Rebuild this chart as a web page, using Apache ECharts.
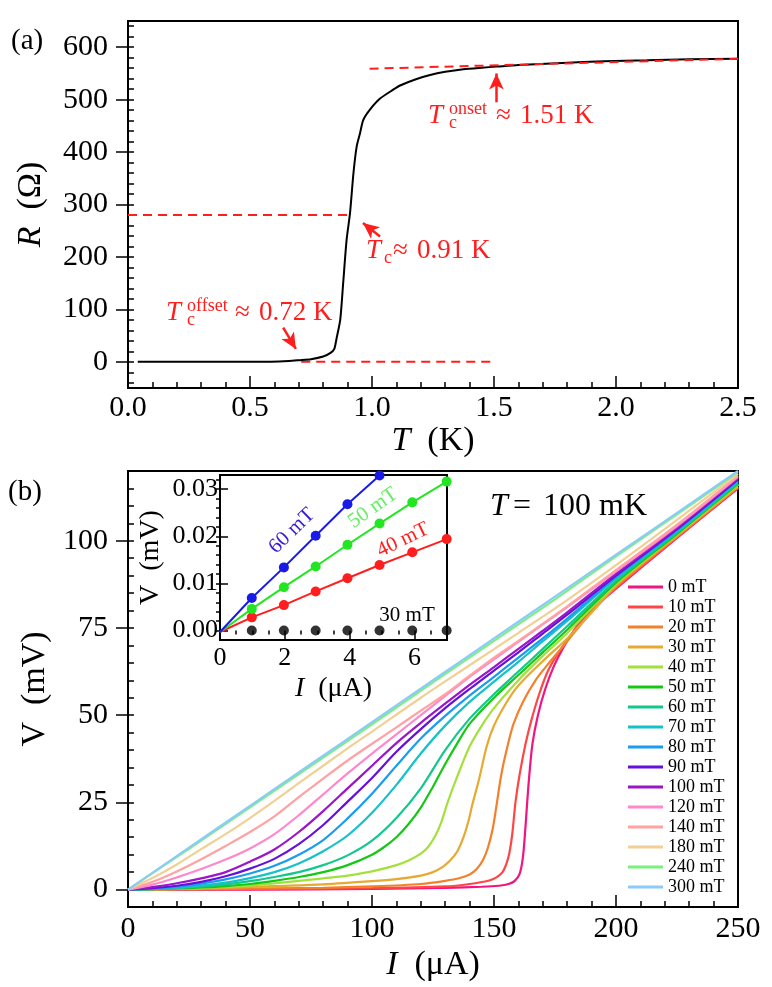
<!DOCTYPE html>
<html><head><meta charset="utf-8">
<script src="https://cdn.jsdelivr.net/npm/echarts@6/dist/echarts.min.js"></script>
<style>html,body{margin:0;padding:0;background:#fff}#c{width:772px;height:987px}</style>
</head><body><div id="c"></div>
<script>
const FONT = '"Liberation Serif", "DejaVu Serif", serif';

// ---------- Panel (a): R(T) ----------
const tempK  = [0.04,0.2,0.4,0.55,0.62,0.66,0.70,0.75,0.80,0.83,0.845,0.855,0.87,0.882,0.896,0.91,0.924,0.937,0.951,0.964,0.99,1.033,1.087,1.115,1.18,1.238,1.30,1.374,1.45,1.51,1.60,1.78,1.95,2.126,2.30,2.50];
const resOhm = [0,0,0,0,0.5,1.5,3,5,10,17,24,45,81,151,233,284,360,410,436,461,480,502,519,527,539,547,553,558,561,563,566,570,573,575,577,578];
const tcLine     = [[0,280],[0.91,280]];
const offsetLine = [[0.71,0],[1.5,0]];
const onsetLine  = [[0.99,559],[2.5,578]];
const arrowOnset  = [[1.51,495],[1.51,550]];
const arrowTc     = [[1.033,239],[0.963,264.7]];
const arrowOffset = [[0.636,65],[0.688,24.5]];
const rTicks = [0,100,200,300,400,500,600];

// ---------- Panel (b): V(I) at T = 100 mK ----------
const fields = ['0 mT','10 mT','20 mT','30 mT','40 mT','50 mT','60 mT','70 mT','80 mT','90 mT','100 mT','120 mT','140 mT','180 mT','240 mT','300 mT'];
const iv0   = [[0,0],[50,0],[100,0.2],[130,0.5],[145,0.8],[152,1.1],[156,1.6],[158.5,2.5],[160.5,4.5],[161.8,9],[162.8,17],[163.6,25],[164.5,33],[165.8,42],[168,50],[171,57.5],[174.5,64],[178.5,69.5],[183,74.5],[188,79],[194,82.7],[200,86.3],[225,100.8],[250,115]];
const iv10  = [[0,0],[50,0.1],[100,0.4],[130,0.9],[140,1.6],[148,2.6],[151,3.5],[153.5,5],[155,7.2],[156.3,10.5],[157.5,16],[158.8,25],[160.5,33],[163,42],[165.5,49],[168.5,56],[172,62.5],[176,67.5],[181,72.5],[187,78],[194,83],[200,86.5],[225,101],[250,115.2]];
const iv20  = [[0,0],[40,0.2],[80,0.5],[100,0.9],[120,1.6],[130,2.5],[136,3.3],[140,4.3],[143,6],[145.5,8.5],[147.5,12],[149.5,17.5],[151,24],[153,33],[155.5,41],[158,47.5],[162,54],[167,60],[172,64.5],[178,69.5],[185,75.5],[192,81],[200,86.8],[225,101.2],[250,115.4]];
const iv30  = [[0,0],[20,0.2],[40,0.5],[60,1.0],[80,1.5],[100,2.4],[110,3.0],[120,4.0],[125,5.0],[129,6.5],[132,8.3],[135,11],[137.5,15],[139.5,19.5],[141,24],[144,32],[147,41],[150,47],[155,53.5],[160,58.5],[170,65.5],[180,72],[190,79.5],[200,87.2],[225,101.5],[250,115.6]];
const iv40  = [[0,0],[10,0.1],[20,0.2],[30,0.4],[40,0.8],[50,1.2],[60,1.8],[70,2.5],[80,3.2],[90,4.0],[100,5.2],[110,7.0],[115,8.3],[120,10.3],[123,12.2],[126,15.5],[128.5,19.5],[131,25],[135,32.5],[140,41],[145,47],[150,52],[160,60],[170,67],[180,73.5],[200,87.6],[225,101.8],[250,116]];
const iv50  = [[0,0],[10,0.1],[20,0.3],[30,0.6],[40,1.0],[50,1.6],[60,2.5],[70,3.6],[80,5.0],[90,7.0],[100,10],[105,12.2],[110,15],[115,18.8],[120,23.5],[125,29.5],[130,36],[135,42],[140,47.5],[150,55],[160,61.5],[170,68],[180,74.5],[200,88],[225,102],[250,116.3]];
const iv60  = [[0,0],[10,0.1],[20,0.4],[30,0.9],[40,1.5],[50,2.4],[60,3.6],[70,5.0],[80,7.0],[90,9.8],[100,14],[110,20.5],[120,29],[130,40],[140,49],[150,56],[160,62.5],[170,69],[180,75.5],[200,88.5],[225,102.3],[250,116.6]];
const iv70  = [[0,0],[10,0.2],[20,0.6],[30,1.2],[40,2.0],[50,3.3],[60,5.0],[70,7.5],[80,11],[90,15.5],[100,22],[110,30],[120,39],[130,47],[140,53.8],[150,59.6],[160,65.3],[170,71.2],[180,77],[200,89.2],[225,102.7],[250,117]];
const iv80  = [[0,0],[10,0.3],[20,0.8],[30,1.7],[40,2.9],[50,4.6],[60,6.8],[70,10],[80,14.2],[90,20.4],[100,27.5],[110,35.5],[120,43.3],[130,49.8],[140,55.6],[150,61],[160,66.5],[170,72],[180,77.7],[200,89.6],[225,103],[250,117.3]];
const iv90  = [[0,0],[10,0.4],[20,1.1],[30,2.2],[40,3.8],[50,6.0],[60,8.8],[70,13],[80,18.5],[90,25.2],[100,32],[110,39.5],[120,46],[130,52],[140,57.5],[150,62.8],[160,68],[170,73.4],[180,78.8],[200,90],[225,103.3],[250,117.6]];
const iv100 = [[0,0],[10,0.7],[20,1.8],[30,3.2],[40,5.0],[50,8.0],[60,11.5],[70,16.5],[80,22.5],[90,29],[100,35.5],[110,42],[120,47.8],[130,53.3],[140,58.7],[150,63.8],[160,69],[170,74.2],[180,79.5],[200,90.5],[225,103.7],[250,118]];
const iv120 = [[0,0],[10,1.4],[20,3.5],[30,5.9],[40,8.6],[50,11.8],[60,15.9],[70,21.3],[80,27.3],[90,33.3],[100,39],[110,44.5],[120,50],[130,55.5],[140,61],[150,66],[160,71],[170,76],[180,81],[200,91.2],[225,104.2],[250,118.3]];
const iv140 = [[0,0],[10,2.2],[20,5.2],[30,8.7],[40,12.5],[50,16.5],[60,21],[70,26.5],[80,31.8],[90,37],[100,41.8],[110,46.5],[120,51.3],[130,56],[140,61.3],[150,66.5],[160,71.3],[170,76.2],[180,81.2],[200,91.6],[225,104.6],[250,118.7]];
const iv180 = [[0,0],[10,3.3],[20,7.2],[30,11.6],[40,15.9],[50,20.5],[60,25.4],[70,30.5],[80,35.5],[90,40.5],[100,45.3],[120,55],[140,64.3],[160,73.6],[180,83],[200,93],[225,106],[250,119.2]];
const iv240 = [[0,0],[25,11.7],[50,23.6],[75,35.5],[100,47.4],[125,59.4],[150,71.3],[175,83.2],[200,95.5],[225,107.6],[250,119.7]];
const iv300 = [[0,0],[25,12],[50,24],[75,36],[100,48],[125,60],[150,72],[175,84],[200,96],[225,108],[250,120]];
const curves = [iv0,iv10,iv20,iv30,iv40,iv50,iv60,iv70,iv80,iv90,iv100,iv120,iv140,iv180,iv240,iv300];
const vTicks = [0,25,50,75,100];

// ---------- Inset ----------
const insetI   = [0.98,1.97,2.95,3.93,4.92,5.93,6.99];
const insetV60 = [0.0069,0.0134,0.0201,0.0268,0.0329];
const insetV50 = [0.0046,0.0092,0.0136,0.0182,0.0227,0.0272,0.0316];
const insetV40 = [0.0028,0.0054,0.0083,0.0111,0.0139,0.0166,0.0194];
const insetV30 = [0,0,0,0,0,0,0];
const insetStartV = -0.0003;
const insetVTicks = [0,0.01,0.02,0.03];
const insetITicks = [0,2,4,6];

// ---------- styles ----------
const colors = ['#f2147f','#ff4646','#f3812a','#e6a932','#a4e03c','#14c814','#12c88c','#14c2c8','#1a9cf0','#6610dc','#9a16c8','#ff88cc','#ffa2a2','#f2d094','#7cf07c','#8ccaf8'];
const RED = '#ff1e1e';

function range(a, b, s) { const out = []; for (let v = a; v <= b + 1e-9; v += s) out.push(+v.toFixed(6)); return out; }

const nameStyle = (fs) => ({color:'#000', fontFamily:FONT, fontSize:fs,
  rich:{i:{fontStyle:'italic', fontFamily:FONT, fontSize:fs, color:'#000'}, r:{fontFamily:FONT, fontSize:fs, color:'#000'}}});
const axLine = {show:true, onZero:false, lineStyle:{color:'#000', width:2}};
const tickLS = {color:'#000', width:1.5};
const hidden = {axisLine:{show:false}, axisLabel:{show:false}, splitLine:{show:false}};
const TF = 30; // tick label font

const xAxes = [
  {type:'value', gridIndex:0, min:0, max:2.5, interval:0.5, splitLine:{show:false}, axisLine:axLine,
   axisTick:{inside:true, length:12, lineStyle:tickLS}, minorTick:{show:true, splitNumber:5, length:6, lineStyle:tickLS},
   axisLabel:{color:'#000', fontFamily:FONT, fontSize:TF, margin:5, formatter:v=>v.toFixed(1)},
   name:'{i|T}  {r|(K)}', nameLocation:'middle', nameGap:34, nameTextStyle:nameStyle(34)},
  {type:'value', gridIndex:1, min:0, max:250, interval:50, splitLine:{show:false}, axisLine:axLine,
   axisTick:{inside:true, length:12, lineStyle:tickLS}, minorTick:{show:true, splitNumber:5, length:6, lineStyle:tickLS},
   axisLabel:{color:'#000', fontFamily:FONT, fontSize:TF, margin:7},
   name:'{i|I}  {r|(μA)}', nameLocation:'middle', nameGap:41, nameTextStyle:nameStyle(34)},
  {type:'value', gridIndex:2, min:0, max:7, splitLine:{show:false}, axisLine:axLine,
   axisTick:{inside:true, length:8, lineStyle:tickLS, customValues:insetITicks},
   axisLabel:{color:'#000', fontFamily:FONT, fontSize:26, margin:5, customValues:insetITicks},
   name:'{i|I}  {r|(μA)}', nameLocation:'middle', nameGap:35, nameTextStyle:nameStyle(28), z:11},
  Object.assign({type:'value', gridIndex:2, min:0, max:7,
   axisTick:{inside:true, length:4, lineStyle:tickLS, customValues:range(0,7,0.5)}, z:11}, hidden)
];
const yAxes = [
  {type:'value', gridIndex:0, min:-50, max:650, splitLine:{show:false}, axisLine:axLine,
   axisTick:{length:12, lineStyle:tickLS, customValues:rTicks},
   axisLabel:{color:'#000', fontFamily:FONT, fontSize:TF, margin:20, customValues:rTicks},
   name:'{i|R}  {r|(Ω)}', nameLocation:'middle', nameGap:80, nameTextStyle:nameStyle(34)},
  Object.assign({type:'value', gridIndex:0, min:-50, max:650,
   axisTick:{length:6, lineStyle:tickLS, customValues:range(-40,640,20)}}, hidden),
  {type:'value', gridIndex:1, min:-5, max:120, splitLine:{show:false}, axisLine:axLine,
   axisTick:{length:12, lineStyle:tickLS, customValues:vTicks},
   axisLabel:{color:'#000', fontFamily:FONT, fontSize:TF, margin:20, customValues:vTicks},
   name:'V  (mV)', nameLocation:'middle', nameGap:73, nameTextStyle:nameStyle(34)},
  Object.assign({type:'value', gridIndex:1, min:-5, max:120,
   axisTick:{length:6, lineStyle:tickLS, customValues:range(0,120,5)}}, hidden),
  {type:'value', gridIndex:2, min:-0.002, max:0.033, splitLine:{show:false}, axisLine:axLine,
   axisTick:{inside:true, length:8, lineStyle:tickLS, customValues:insetVTicks},
   axisLabel:{color:'#000', fontFamily:FONT, fontSize:26, margin:2, customValues:insetVTicks, formatter:v=>v.toFixed(2)},
   name:'V  (mV)', nameLocation:'middle', nameGap:55, nameTextStyle:nameStyle(28), z:11},
  Object.assign({type:'value', gridIndex:2, min:-0.002, max:0.033,
   axisTick:{inside:true, length:4, lineStyle:tickLS, customValues:range(0,0.032,0.002)}, z:11}, hidden)
];

const series = [];
// (a) main curve
series.push({type:'line', xAxisIndex:0, yAxisIndex:0, data:tempK.map((t,i)=>[t,resOhm[i]]),
  showSymbol:false, symbol:'none', smooth:0.25, lineStyle:{color:'#000', width:2}, z:5});
const dashed = {color:RED, width:2, type:[9,6]};
series.push({type:'line', xAxisIndex:0, yAxisIndex:0, data:onsetLine, symbol:'none', lineStyle:dashed, z:6});
series.push({type:'line', xAxisIndex:0, yAxisIndex:0, data:offsetLine, symbol:'none', lineStyle:dashed, z:4});
series.push({type:'line', xAxisIndex:0, yAxisIndex:0, data:tcLine, symbol:'none', lineStyle:dashed, z:4,
  markLine:{silent:true, animation:false, symbol:['none','arrow'], symbolSize:[11,16],
    lineStyle:{color:RED, width:2.5, type:'solid'}, label:{show:false},
    data:[arrowOnset, arrowTc, arrowOffset].map(a=>[{coord:a[0]},{coord:a[1]}])}});
// (b) I-V curves
curves.forEach((c, k) => {
  series.push({type:'line', name:fields[k], xAxisIndex:1, yAxisIndex:2, data:c, showSymbol:false, symbol:'none',
    smooth:0.3, color:colors[k], lineStyle:{color:colors[k], width:2.2}, z:3});
});
// inset
function insetLine(vals, color) {
  const d = [{value:[0, insetStartV], symbolSize:0}].concat(vals.map((v,i)=>[insetI[i], v]));
  return {type:'line', name:'inset', xAxisIndex:2, yAxisIndex:4, data:d, symbol:'circle', symbolSize:10, showAllSymbol:true,
    color:color, itemStyle:{color:color}, lineStyle:{color:color, width:2}, z:12};
}
const s60 = insetLine(insetV60, '#1a1ae8'); s60.data.push({value:[5.05,0.0337], symbolSize:0});
series.push(insetLine(insetV40, '#ff1e1e'), insetLine(insetV50, '#22e622'), s60);
series.push({type:'scatter', name:'inset30', xAxisIndex:2, yAxisIndex:4, data:insetI.map((x,i)=>[x, insetV30[i]]),
  symbolSize:10, itemStyle:{color:'#000'}, z:12, clip:false});

// text helpers
function txt(x, y, text, size, opt) {
  opt = opt || {};
  return {type:'text', x:x, y:y, rotation:opt.rot||0, z:100, silent:true,
    style:{text:text, fill:opt.color||'#000', fontFamily:FONT, fontSize:size, fontStyle:opt.italic?'italic':'normal',
      align:opt.align||'left', verticalAlign:'middle', textAlign:opt.align||'left', textVerticalAlign:'middle'}};
}
const graphic = [
  txt(11, 41, '(a)', 29),
  txt(8, 492, '(b)', 29),
  // onset
  txt(428, 116, 'T', 27, {italic:true, color:RED}),
  txt(449, 109, 'onset', 18, {color:RED}),
  txt(449, 123, 'c', 18, {color:RED}),
  txt(496, 116, '≈', 27, {color:RED}),
  txt(520, 116, '1.51 K', 27, {color:RED}),
  // Tc
  txt(366, 251, 'T', 27, {italic:true, color:RED}),
  txt(384, 258, 'c', 18, {color:RED}),
  txt(393, 251, '≈', 27, {color:RED}),
  txt(417, 251, '0.91 K', 27, {color:RED}),
  // offset
  txt(166, 313, 'T', 27, {italic:true, color:RED}),
  txt(187, 306, 'offset', 18, {color:RED}),
  txt(187, 320, 'c', 18, {color:RED}),
  txt(235, 313, '≈', 27, {color:RED}),
  txt(259, 313, '0.72 K', 27, {color:RED}),
  // T = 100 mK
  txt(490, 507, 'T', 32, {italic:true}),
  txt(513, 507, '=', 32),
  txt(543, 507, '100 mK', 32),
  // inset labels
  txt(292, 531, '60 mT', 21, {color:'#3a1ad6', align:'center', rot:0.77}),
  txt(373, 508, '50 mT', 21, {color:'#66ee66', align:'center', rot:0.61}),
  txt(403, 540, '40 mT', 21, {color:'#ff1e1e', align:'center', rot:0.45}),
  txt(407, 615, '30 mT', 21, {align:'center'})
];

const option = {
  animation:false, backgroundColor:'#fff',
  grid:[
    {left:128, top:21, width:610, height:367, show:true, borderColor:'#000', borderWidth:2, backgroundColor:'transparent'},
    {left:128, top:471, width:610, height:436, show:true, borderColor:'#000', borderWidth:2, backgroundColor:'transparent'},
    {left:220, top:475, width:227, height:165, show:true, borderColor:'#000', borderWidth:2, backgroundColor:'transparent', z:11}
  ],
  xAxis:xAxes, yAxis:yAxes,
  legend:{data:fields, orient:'vertical', left:628, top:578, padding:0, itemWidth:35, itemHeight:3, itemGap:2, icon:'rect',
    selectedMode:false, textStyle:{fontFamily:FONT, fontSize:18, lineHeight:18, color:'#000'}},
  series:series,
  graphic:graphic
};
const chart = echarts.init(document.getElementById('c'), null, {renderer:'canvas'});
chart.setOption(option);
</script></body></html>
